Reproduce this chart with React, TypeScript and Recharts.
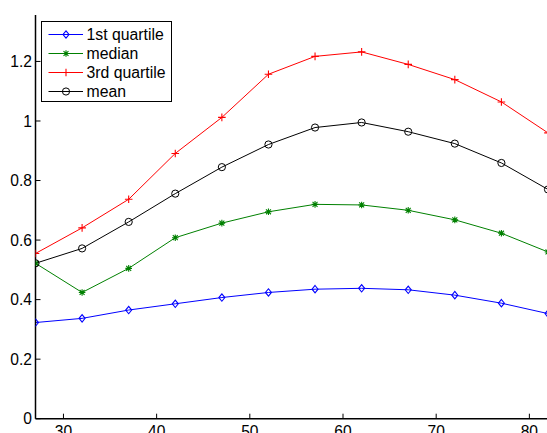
import React from "react";
import { LineChart, Line, XAxis, YAxis, Legend } from "recharts";

const xs = [27, 32, 37, 42, 47, 52, 57, 62, 67, 72, 77, 82];
const q1 = [0.323, 0.337, 0.365, 0.386, 0.407, 0.424, 0.435, 0.438, 0.433, 0.415, 0.388, 0.353];
const med = [0.522, 0.424, 0.505, 0.608, 0.657, 0.695, 0.72, 0.718, 0.7, 0.668, 0.623, 0.56];
const q3 = [0.555, 0.641, 0.737, 0.891, 1.012, 1.157, 1.217, 1.232, 1.19, 1.139, 1.064, 0.96];
const mean = [0.522, 0.572, 0.661, 0.756, 0.845, 0.921, 0.978, 0.995, 0.964, 0.924, 0.859, 0.77];

const xTicks = [30, 40, 50, 60, 70, 80];
const yTicks = [0, 0.2, 0.4, 0.6, 0.8, 1, 1.2];
const seriesNames = ["1st quartile", "median", "3rd quartile", "mean"];

const data = xs.map((x, i) => ({ x, q1: q1[i], med: med[i], q3: q3[i], mean: mean[i] }));

const FONT = "'Liberation Sans', Arial, Helvetica, sans-serif";
const FS = 15.6;

const BLUE = "#0000ff";
const GREEN = "#008000";
const RED = "#ff0000";
const BLACK = "#000000";
const AXW = 1.5;

function markerShape(kind: string, cx: number, cy: number, color: string, key?: any) {
  if (kind === "diamond") {
    return (
      <path key={key} d={`M${cx},${cy - 3.7}L${cx + 3},${cy}L${cx},${cy + 3.7}L${cx - 3},${cy}Z`} fill="none" stroke={color} strokeWidth={1.1} />
    );
  }
  if (kind === "star") {
    const r = 3.3;
    const d = r * 0.75;
    return (
      <path key={key} d={`M${cx - r},${cy}H${cx + r}M${cx},${cy - r}V${cy + r}M${cx - d},${cy - d}L${cx + d},${cy + d}M${cx - d},${cy + d}L${cx + d},${cy - d}`} fill="none" stroke={color} strokeWidth={1.1} />
    );
  }
  if (kind === "plus") {
    const r = 3.8;
    return <path key={key} d={`M${cx - r},${cy}H${cx + r}M${cx},${cy - r}V${cy + r}`} fill="none" stroke={color} strokeWidth={1.1} />;
  }
  return <circle key={key} cx={cx} cy={cy} r={3.6} fill="none" stroke={color} strokeWidth={1} />;
}

const makeDot = (kind: string, color: string) => (props: any) => {
  const { cx, cy, index } = props;
  if (cx == null || cy == null) return <g key={index} />;
  return markerShape(kind, cx, cy, color, index);
};

const BottomTick = (props: any) => {
  const { x, y, payload } = props;
  return (
    <g>
      <line x1={x} y1={y} x2={x} y2={y - 5} stroke={BLACK} strokeWidth={1} />
      <text x={x} y={y + 18} textAnchor="middle" fontFamily={FONT} fontSize={FS} fill={BLACK}>
        {String(payload.value)}
      </text>
    </g>
  );
};

const TopTick = (props: any) => {
  const { x, y } = props;
  return <line x1={x} y1={y} x2={x} y2={y + 5} stroke={BLACK} strokeWidth={1} />;
};

const LeftTick = (props: any) => {
  const { x, y, payload } = props;
  return (
    <g>
      <line x1={x} y1={y} x2={x + 5} y2={y} stroke={BLACK} strokeWidth={1} />
      <text x={x - 3.5} y={y + 5.6} textAnchor="end" fontFamily={FONT} fontSize={FS} fill={BLACK}>
        {String(payload.value)}
      </text>
    </g>
  );
};

const RightTick = (props: any) => {
  const { x, y } = props;
  return <line x1={x} y1={y} x2={x - 5} y2={y} stroke={BLACK} strokeWidth={1} />;
};

const legendItems = [
  { name: seriesNames[0], color: BLUE, kind: "diamond" },
  { name: seriesNames[1], color: GREEN, kind: "star" },
  { name: seriesNames[2], color: RED, kind: "plus" },
  { name: seriesNames[3], color: BLACK, kind: "circle" },
];

const LegendBox = () => (
  <div
    style={{
      boxSizing: "border-box",
      width: 131,
      height: 81,
      border: "1.3px solid #000",
      background: "#fff",
      paddingTop: 2.5,
      fontFamily: FONT,
      fontSize: 15.8,
      color: "#000",
    }}
  >
    {legendItems.map((it) => (
      <div key={it.name} style={{ position: "relative", height: 19, lineHeight: "19px" }}>
        <svg width={45} height={19} style={{ position: "absolute", left: 0, top: 0 }}>
          <line x1={6.5} y1={9.5} x2={41} y2={9.5} stroke={it.color} strokeWidth={1} />
          {markerShape(it.kind, 24, 9.5, it.color)}
        </svg>
        <span style={{ position: "absolute", left: 44.5, top: 0, whiteSpace: "nowrap" }}>{it.name}</span>
      </div>
    ))}
  </div>
);

export default function App() {
  return (
    <div style={{ position: "absolute", left: 0, top: 0, width: 547, height: 433, overflow: "hidden", background: "#fff" }}>
      <LineChart width={548} height={433} data={data} margin={{ top: 15, right: 0, bottom: 0, left: 0 }}>
        <XAxis
          xAxisId="b"
          dataKey="x"
          type="number"
          domain={[27, 82]}
          ticks={xTicks}
          allowDataOverflow
          height={14.3}
          tickSize={0}
          tickMargin={0}
          tickLine={false}
          tick={<BottomTick />}
          axisLine={{ stroke: BLACK, strokeWidth: AXW }}
          interval={0}
        />
        <XAxis
          xAxisId="t"
          orientation="top"
          dataKey="x"
          type="number"
          domain={[27, 82]}
          ticks={xTicks}
          allowDataOverflow
          height={0}
          tickSize={0}
          tickMargin={0}
          tickLine={false}
          tick={<TopTick />}
          axisLine={{ stroke: BLACK, strokeWidth: AXW }}
          interval={0}
        />
        <YAxis
          yAxisId="l"
          type="number"
          domain={[0, 1.356]}
          ticks={yTicks}
          allowDataOverflow
          width={35.5}
          tickSize={0}
          tickMargin={0}
          tickLine={false}
          tick={<LeftTick />}
          axisLine={{ stroke: BLACK, strokeWidth: AXW }}
          interval={0}
        />
        <YAxis
          yAxisId="r"
          orientation="right"
          type="number"
          domain={[0, 1.356]}
          ticks={yTicks}
          allowDataOverflow
          width={0}
          tickSize={0}
          tickMargin={0}
          tickLine={false}
          tick={<RightTick />}
          axisLine={{ stroke: BLACK, strokeWidth: AXW }}
          interval={0}
        />
        <Legend
          layout="vertical"
          align="center"
          verticalAlign="middle"
          content={() => <LegendBox />}
          wrapperStyle={{ left: 41, top: 21, width: 131, height: 81 }}
        />
        <Line xAxisId="b" yAxisId="l" type="linear" dataKey="q1" name={seriesNames[0]} stroke={BLUE} strokeWidth={1} dot={makeDot("diamond", BLUE)} activeDot={false} isAnimationActive={false} />
        <Line xAxisId="b" yAxisId="l" type="linear" dataKey="med" name={seriesNames[1]} stroke={GREEN} strokeWidth={1} dot={makeDot("star", GREEN)} activeDot={false} isAnimationActive={false} />
        <Line xAxisId="b" yAxisId="l" type="linear" dataKey="q3" name={seriesNames[2]} stroke={RED} strokeWidth={1} dot={makeDot("plus", RED)} activeDot={false} isAnimationActive={false} />
        <Line xAxisId="b" yAxisId="l" type="linear" dataKey="mean" name={seriesNames[3]} stroke={BLACK} strokeWidth={1} dot={makeDot("circle", BLACK)} activeDot={false} isAnimationActive={false} />
      </LineChart>
    </div>
  );
}
